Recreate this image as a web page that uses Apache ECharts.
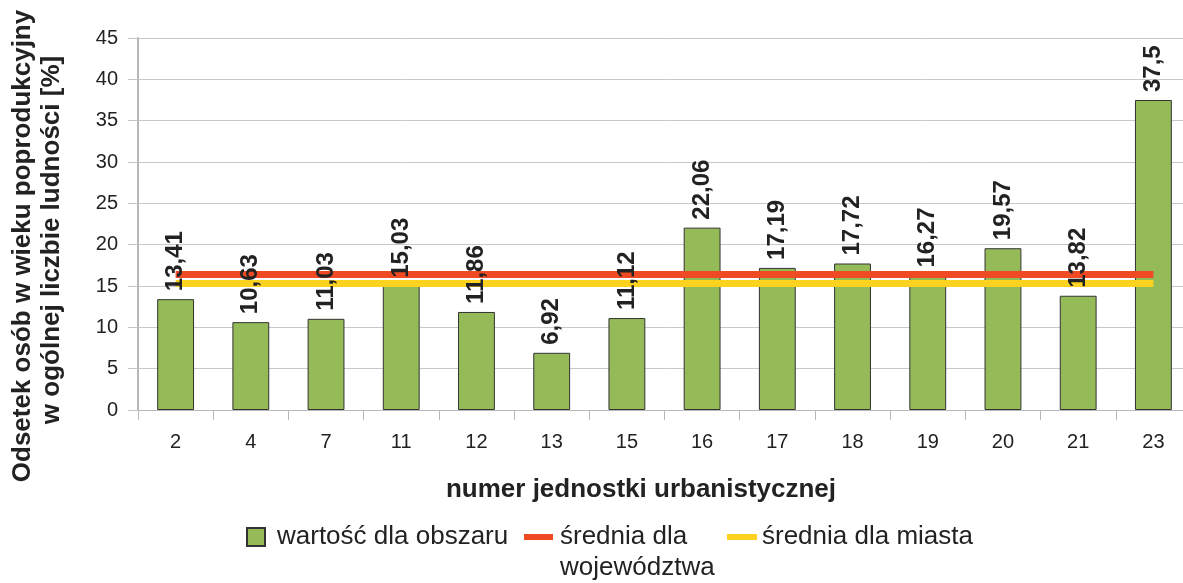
<!DOCTYPE html>
<html>
<head>
<meta charset="utf-8">
<script src="https://cdn.jsdelivr.net/npm/echarts@6/dist/echarts.min.js"></script>
<style>
  html, body { margin: 0; padding: 0; background: #fff; overflow: hidden; }
  /* wykres szerszy niż okno: prawa krawędź siatki ucięta jak w oryginale */
  #chart { width: 1191px; height: 583px; }
</style>
</head>
<body>
<div id="chart"></div>
<script>
// numery jednostek urbanistycznych
const categories = ["2", "4", "7", "11", "12", "13", "15", "16", "17", "18", "19", "20", "21", "23"]
// odsetek osób w wieku poprodukcyjnym [%]
const values = [13.41, 10.63, 11.03, 15.03, 11.86, 6.92, 11.12, 22.06, 17.19, 17.72, 16.27, 19.57, 13.82, 37.5]
// średnie
const sredniaWojewodztwa = 16.4
const sredniaMiasta = 15.3
const yTicks = [0, 5, 10, 15, 20, 25, 30, 35, 40, 45]

const FONT = "Liberation Sans, Arial, sans-serif"
const GREEN = "#95bb59"
const RED = "#ef4a24"
const YELLOW = "#fed320"

const myChart = echarts.init(document.getElementById("chart"))

const legendBase = {
  top: 524,
  padding: 0,
  orient: "horizontal",
  icon: "rect",
  selectedMode: false,
  textStyle: { fontFamily: FONT, fontSize: 26, color: "#222" },
}

// etykiety wartości (nad liniami średnich)
const labelStyle = {
  show: true,
  position: "top",
  rotate: 90,
  align: "left",
  verticalAlign: "middle",
  distance: 8,
  fontFamily: FONT,
  fontSize: 24,
  fontWeight: "bold",
  color: "#222",
  formatter: (p) => String(p.value).replace(".", ","),
}

let option = {
  animation: false,
  backgroundColor: "#fff",
  textStyle: { fontFamily: FONT },
  grid: { left: 138, top: 38, right: 0, height: 372 },
  legend: [
    Object.assign({}, legendBase, {
      left: 246,
      itemWidth: 18,
      itemHeight: 18,
      data: ["wartość dla obszaru"],
      textStyle: Object.assign({}, legendBase.textStyle, { padding: [0, 0, 0, 7] }),
    }),
    Object.assign({}, legendBase, {
      left: 524,
      itemWidth: 29,
      itemHeight: 6,
      data: ["średnia dla województwa"],
      formatter: () => "średnia dla",
      textStyle: Object.assign({}, legendBase.textStyle, { padding: [0, 0, 0, 2] }),
    }),
    Object.assign({}, legendBase, {
      left: 727,
      itemWidth: 30,
      itemHeight: 6,
      data: ["średnia dla miasta"],
    }),
  ],
  graphic: [
    {
      type: "text",
      left: 560,
      top: 555,
      style: { text: "województwa", font: "26px " + FONT, fill: "#222" },
    },
    {
      type: "text",
      x: 641,
      y: 490,
      style: {
        text: "numer jednostki urbanistycznej",
        font: "bold 26px " + FONT,
        fill: "#222",
        align: "center",
        verticalAlign: "middle",
      },
    },
    {
      type: "text",
      x: 23,
      y: 246,
      rotation: Math.PI / 2,
      style: {
        text: "Odsetek osób w wieku poprodukcyjny",
        font: "bold 26px " + FONT,
        fill: "#222",
        align: "center",
        verticalAlign: "middle",
      },
    },
    {
      type: "text",
      x: 52,
      y: 240,
      rotation: Math.PI / 2,
      style: {
        text: "w ogólnej liczbie ludności [%]",
        font: "bold 26px " + FONT,
        fill: "#222",
        align: "center",
        verticalAlign: "middle",
      },
    },
  ],
  xAxis: {
    type: "category",
    data: categories,
    boundaryGap: true,
    axisLine: { show: true, lineStyle: { color: "#b8b8b8", width: 1 } },
    axisTick: { show: true, length: 10, lineStyle: { color: "#b8b8b8" } },
    axisLabel: { fontFamily: FONT, fontSize: 20, color: "#222", margin: 22 },
    splitLine: { show: false },
  },
  yAxis: {
    type: "value",
    min: yTicks[0],
    max: yTicks[yTicks.length - 1],
    interval: 5,
    axisLine: { show: true, lineStyle: { color: "#b8b8b8", width: 2 } },
    axisTick: { show: true, length: 10, lineStyle: { color: "#c4c4c4" } },
    axisLabel: { fontFamily: FONT, fontSize: 20, color: "#222", margin: 20 },
    splitLine: { show: true, lineStyle: { color: "#c8c8c8", width: 1 } },
  },
  series: [
    {
      name: "wartość dla obszaru",
      type: "bar",
      data: values,
      barWidth: "49%",
      z: 2,
      itemStyle: { color: GREEN, borderColor: "#333", borderWidth: 1 },
    },
    {
      name: "średnia dla województwa",
      type: "line",
      data: categories.map(() => sredniaWojewodztwa),
      symbol: "none",
      z: 4,
      color: RED,
      lineStyle: { color: RED, width: 7 },
    },
    {
      name: "średnia dla miasta",
      type: "line",
      data: categories.map(() => sredniaMiasta),
      symbol: "none",
      z: 4,
      color: YELLOW,
      lineStyle: { color: YELLOW, width: 7 },
    },
    {
      name: "etykiety",
      type: "bar",
      data: values,
      barWidth: "49%",
      barGap: "-100%",
      z: 6,
      silent: true,
      itemStyle: { color: "transparent" },
      label: labelStyle,
    },
  ],
}

myChart.setOption(option)
</script>
</body>
</html>
